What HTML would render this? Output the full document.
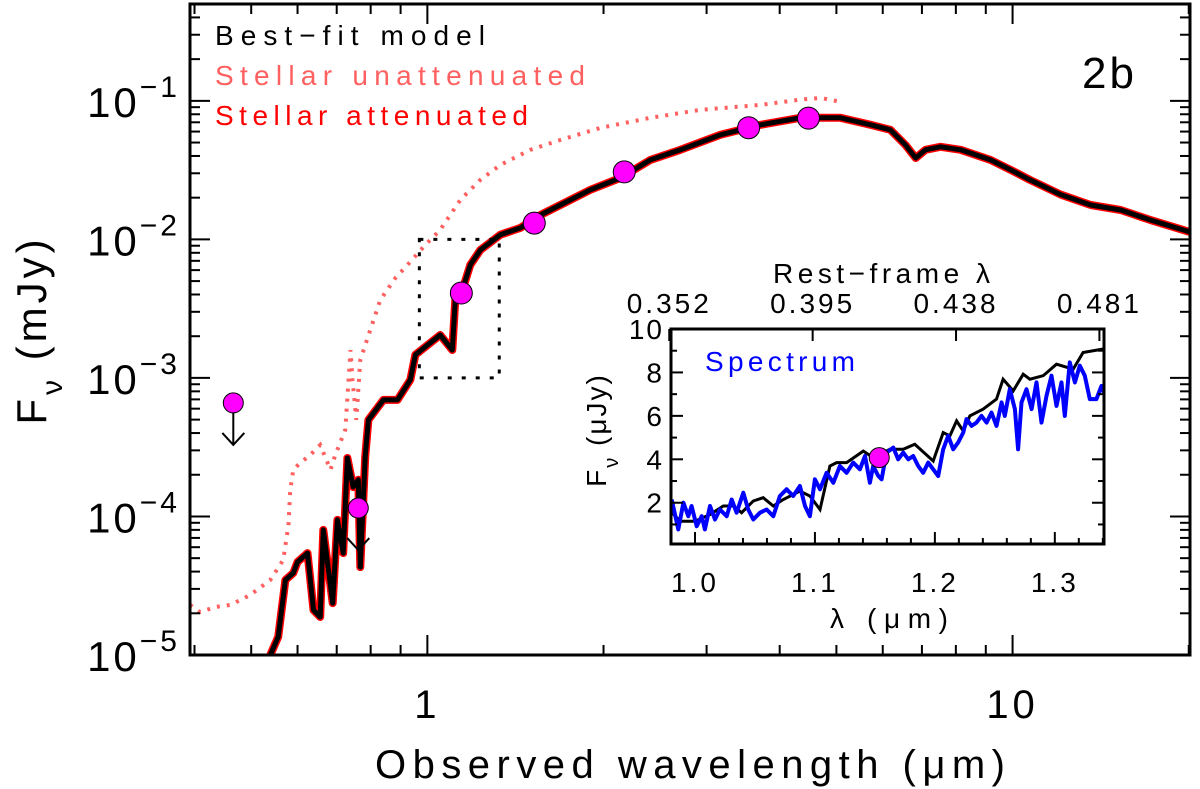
<!DOCTYPE html>
<html><head><meta charset="utf-8"><style>
html,body{margin:0;padding:0;background:#fff;}
svg{display:block;font-family:"Liberation Sans",sans-serif;}
</style></head><body>
<svg id="chart" width="1200" height="789" viewBox="0 0 1200 789" xmlns="http://www.w3.org/2000/svg"></svg>
<script>
// ---- main plot data ----
const modelLam = [0.539,0.556,0.572,0.590,0.600,0.624,0.639,0.656,0.664,0.689,0.702,0.718,0.730,0.747,0.762,0.768,0.783,0.793,0.841,0.889,0.935,0.954,1.052,1.103,1.116,1.148,1.184,1.232,1.333,1.442,1.560,1.687,1.899,2.138,2.405,2.707,3.169,3.71,4.34,5.08,5.72,6.18,6.56,6.83,7.10,7.53,8.15,9.17,9.92,10.7,12.1,13.6,15.3,17.2,20.1];
const modelFlux = [1.0e-5,1.35e-5,3.48e-5,3.91e-5,4.69e-5,5.44e-5,2.11e-5,1.88e-5,8.0e-5,2.37e-5,9.44e-5,5.44e-5,2.64e-4,1.63e-4,1.84e-4,4.31e-5,2.69e-4,4.98e-4,6.94e-4,6.94e-4,9.68e-4,1.47e-3,2.04e-3,1.59e-3,3.66e-3,4.32e-3,6.54e-3,8.40e-3,1.08e-2,1.21e-2,1.50e-2,1.77e-2,2.28e-2,2.78e-2,3.75e-2,4.43e-2,5.69e-2,6.71e-2,7.54e-2,7.54e-2,6.71e-2,6.18e-2,4.81e-2,3.87e-2,4.43e-2,4.66e-2,4.43e-2,3.75e-2,3.18e-2,2.69e-2,2.10e-2,1.77e-2,1.63e-2,1.38e-2,1.13e-2];
const unattLam = [0.393,0.409,0.434,0.461,0.498,0.539,0.567,0.579,0.583,0.590,0.606,0.631,0.656,0.683,0.696,0.724,0.739,0.745,0.756,0.768,0.799,0.831,0.882,0.935,0.992,1.052,1.139,1.232,1.333,1.50,1.687,1.975,2.405,2.93,3.71,4.34,4.70,5.08];
const unattFlux = [2.30e-5,2.04e-5,2.22e-5,2.30e-5,2.71e-5,3.48e-5,4.85e-5,8.69e-5,1.55e-4,2.17e-4,2.43e-4,2.78e-4,3.28e-4,2.17e-4,2.78e-4,4.22e-4,1.59e-3,9.68e-4,4.98e-4,1.35e-3,2.22e-3,3.66e-3,5.27e-3,6.89e-3,9.13e-3,1.17e-2,1.93e-2,2.69e-2,3.45e-2,4.43e-2,5.22e-2,6.38e-2,7.54e-2,8.61e-2,9.35e-2,1.02e-1,1.05e-1,9.84e-2];
const photLam = [1.143,1.523,2.17,3.54,4.48];
const photFlux = [4.1e-3,1.31e-2,3.07e-2,6.4e-2,7.5e-2];
const limLam = [0.466,0.762];
const limFlux = [6.6e-4,1.15e-4];
const xTickLabels = ["1","10"];
const yTickExps = [-1,-2,-3,-4,-5];
// ---- inset data ----
const inModelLam = [0.9797,0.9875,1.0,1.0125,1.0236,1.0319,1.0389,1.0486,1.0569,1.0653,1.0736,1.0875,1.0958,1.1042,1.1125,1.1181,1.1264,1.1403,1.1486,1.1625,1.1736,1.1833,1.1986,1.2069,1.2125,1.2181,1.2236,1.2292,1.2403,1.2514,1.2569,1.2653,1.2736,1.2792,1.2903,1.3014,1.3153,1.3236,1.3403];
const inModelFlux = [1.62,1.15,1.15,1.46,1.85,1.85,1.54,2.08,2.23,1.85,2.15,2.54,2.31,1.69,3.69,3.85,3.85,4.38,4.08,4.46,4.46,4.69,3.92,5.23,5.08,5.77,5.31,6.0,6.31,6.77,7.69,7.15,7.92,7.69,7.85,8.38,8.15,8.92,9.08];
const specLam = [0.9806,0.9861,0.9903,0.9944,0.9972,1.0014,1.0056,1.0083,1.0125,1.0167,1.0208,1.0264,1.0306,1.0347,1.0403,1.0444,1.0486,1.0542,1.0597,1.0653,1.0708,1.0764,1.0819,1.0875,1.0917,1.0958,1.1,1.1042,1.1097,1.1153,1.1208,1.1264,1.1319,1.1375,1.1417,1.1458,1.1486,1.1528,1.1556,1.1597,1.1653,1.1694,1.1736,1.1778,1.1819,1.1861,1.1903,1.1944,1.1986,1.2028,1.2069,1.2111,1.2153,1.2194,1.2236,1.2264,1.2306,1.2347,1.2389,1.2431,1.2472,1.2514,1.2556,1.2583,1.2625,1.2667,1.2694,1.2722,1.2764,1.2806,1.2847,1.2889,1.2931,1.2972,1.3014,1.3056,1.3083,1.3125,1.3167,1.3208,1.325,1.3292,1.3347,1.3389,1.3408];
const specFlux = [2.15,0.77,2.0,1.38,1.85,0.92,1.38,0.77,1.85,1.23,1.69,1.38,2.15,1.54,2.46,1.69,1.23,1.54,1.69,1.38,2.31,2.62,2.31,2.77,1.85,1.38,3.08,2.62,3.38,2.92,3.69,3.38,3.85,3.54,4.15,2.92,3.69,3.23,3.08,4.31,4.54,4.0,4.31,4.0,4.15,3.69,3.38,3.85,3.54,3.23,4.46,5.08,4.46,4.77,5.23,5.85,5.54,5.69,6.0,5.69,6.15,5.54,6.62,6.0,7.23,6.31,4.46,6.62,7.23,6.31,7.54,5.69,6.92,7.85,6.46,7.54,6.0,8.46,7.54,8.31,7.85,6.77,6.77,7.38,7.08];
const inPhotLam = [1.1536];
const inPhotFlux = [4.08];
const inXTicks = [1.0,1.1,1.2,1.3];
const inYTicks = [2,4,6,8,10];
const restLabels = ["0.352","0.395","0.438","0.481"];
const restZ1 = 2.78;

const NS="http://www.w3.org/2000/svg";
const svg=document.getElementById('chart');
function el(tag,attrs,parent){const e=document.createElementNS(NS,tag);for(const k in attrs)e.setAttribute(k,attrs[k]);(parent||svg).appendChild(e);return e;}
const L=190,R=1190,T=4,B=655;
const xLo=Math.log10(0.393),xHi=Math.log10(20.1);
const yLo=-5,yHi=Math.log10(0.5);
const X=l=>L+(Math.log10(l)-xLo)/(xHi-xLo)*(R-L);
const Y=f=>B-(Math.log10(f)-yLo)/(yHi-yLo)*(B-T);
function pathOf(xs,ys,fx,fy){return xs.map((v,i)=>(i?'L':'M')+fx(v).toFixed(1)+','+fy(ys[i]).toFixed(1)).join('');}

const gMain=el('g',{});


const cp=el('clipPath',{id:'mclip'},gMain);el('rect',{x:L,y:T,width:R-L,height:B-T},cp);
const gData=el('g',{'clip-path':'url(#mclip)'},gMain);
const un=el('path',{d:pathOf(unattLam,unattFlux,X,Y),fill:'none',stroke:'#ff6060','stroke-width':4,'stroke-dasharray':'3 7'},gData);


const at=el('path',{d:pathOf(modelLam,modelFlux,X,Y),fill:'none',stroke:'#ff0000','stroke-width':8,'stroke-linejoin':'round'},gData);


const bm=el('path',{d:pathOf(modelLam,modelFlux,X,Y),fill:'none',stroke:'#000','stroke-width':5,'stroke-linejoin':'round'},gData);


const bx=el('rect',{x:X(0.969),y:Y(1e-2),width:X(1.327)-X(0.969),height:Y(1e-3)-Y(1e-2),fill:'none',stroke:'#000','stroke-width':3,'stroke-dasharray':'4 10'},gMain);


limLam.forEach((l,i)=>{
  const g=el('g',{},gMain);
  
  
  const cx=X(l),cy=Y(limFlux[i]);
  el('line',{x1:cx,y1:cy,x2:cx,y2:cy+42,stroke:'#000','stroke-width':2},g);
  el('path',{d:`M${cx-11},${cy+30}L${cx},${cy+42}L${cx+11},${cy+30}`,fill:'none',stroke:'#000','stroke-width':2},g);
  el('circle',{cx:cx,cy:cy,r:10,fill:'#ff00ff',stroke:'#000','stroke-width':1},g);
});
photLam.forEach((l,i)=>{
  const c=el('circle',{cx:X(l),cy:Y(photFlux[i]),r:11,fill:'#ff00ff',stroke:'#000','stroke-width':1},gMain);
  
  
});
const fr=el('rect',{x:L,y:T,width:R-L,height:B-T,fill:'none',stroke:'#000','stroke-width':3},gMain);


for(let d=-1;d<=1;d++){for(let m=1;m<10;m++){const v=m*Math.pow(10,d);if(v<0.393||v>20.1)continue;const x=X(v);const len=(m===1)?20:10;
  el('line',{x1:x,y1:B,x2:x,y2:B-len,stroke:'#000','stroke-width':2},gMain);
  el('line',{x1:x,y1:T,x2:x,y2:T+len,stroke:'#000','stroke-width':2},gMain);}}
[1,10].forEach((v,i)=>{const t=el('text',{x:X(v),y:718,'font-size':40,'text-anchor':'middle','letter-spacing':4},gMain);t.textContent=xTickLabels[i];
  
  });
for(let d=-5;d<=-1;d++){for(let m=1;m<10;m++){const v=m*Math.pow(10,d);if(Math.log10(v)>yHi)continue;const y=Y(v);const len=(m===1)?20:10;
  el('line',{x1:L,y1:y,x2:L+len,y2:y,stroke:'#000','stroke-width':2},gMain);
  el('line',{x1:R,y1:y,x2:R-len,y2:y,stroke:'#000','stroke-width':2},gMain);}}
yTickExps.forEach(e=>{const t=el('text',{x:180,y:Y(Math.pow(10,e))+16,'font-size':42,'text-anchor':'end','letter-spacing':3},gMain);
  t.textContent='10';const s=el('tspan',{dy:-20,'font-size':30},t);s.textContent='\u2212'+Math.abs(e);
  
  });
const xt=el('text',{x:375,y:778,'font-size':40,textLength:630,lengthAdjust:'spacing'},gMain);xt.textContent='Observed wavelength (\u03bcm)';


const yt=el('text',{x:0,y:0,'font-size':42,'text-anchor':'middle','letter-spacing':4,transform:'translate(46,330) rotate(-90)'},gMain);
yt.textContent='F';const ys=el('tspan',{dy:16,'font-size':30},yt);ys.textContent='\u03bd';const ys2=el('tspan',{dy:-16},yt);ys2.textContent=' (mJy)';


[['Best\u2212fit model','#000',270],['Stellar unattenuated','#ff6060',370],['Stellar attenuated','#ff0000',313]].forEach((a,i)=>{
  const t=el('text',{x:215,y:45+i*40,'font-size':28,fill:a[1],textLength:a[2],lengthAdjust:'spacing'},gMain);t.textContent=a[0];
  
  });
const pl=el('text',{x:1137,y:88,'font-size':44,'text-anchor':'end','letter-spacing':3},gMain);pl.textContent='2b';



// ---- inset ----
const iL=671,iR=1104,iT=329,iB=544;
const ixLo=0.98,ixHi=1.341,iyLo=0.1,iyHi=10;
const IX=v=>iL+(v-ixLo)/(ixHi-ixLo)*(iR-iL);
const IY=v=>iB-(v-iyLo)/(iyHi-iyLo)*(iB-iT);
const gIn=el('g',{});


el('rect',{x:iL,y:iT,width:iR-iL,height:iB-iT,fill:'#fff'},gIn);
const icp=el('clipPath',{id:'iclip'},gIn);el('rect',{x:iL,y:iT,width:iR-iL,height:iB-iT},icp);
const giD=el('g',{'clip-path':'url(#iclip)'},gIn);
const im=el('path',{d:pathOf(inModelLam,inModelFlux,IX,IY),fill:'none',stroke:'#000','stroke-width':3},giD);


const sp=el('path',{d:pathOf(specLam,specFlux,IX,IY),fill:'none',stroke:'#0000ff','stroke-width':4,'stroke-linejoin':'round'},giD);


inPhotLam.forEach((l,i)=>{const c=el('circle',{cx:IX(l),cy:IY(inPhotFlux[i]),r:10,fill:'#ff00ff',stroke:'#000','stroke-width':1},gIn);
  
  });
const ifr=el('rect',{x:iL,y:iT,width:iR-iL,height:iB-iT,fill:'none',stroke:'#000','stroke-width':3},gIn);


for(let v=0.98;v<=1.341;v+=0.02){const x=IX(v);const maj=Math.abs(Math.round(v*10)-v*10)<0.001;const len=maj?12:6;
  el('line',{x1:x,y1:iB,x2:x,y2:iB-len,stroke:'#000','stroke-width':2},gIn);}
for(let v=1;v<=10;v+=1){const y=IY(v);const len=(v%2===0)?12:6;
  el('line',{x1:iL,y1:y,x2:iL+len,y2:y,stroke:'#000','stroke-width':2},gIn);
  el('line',{x1:iR,y1:y,x2:iR-len,y2:y,stroke:'#000','stroke-width':2},gIn);}
inXTicks.forEach(v=>{const t=el('text',{x:IX(v),y:592,'font-size':28,'text-anchor':'middle','letter-spacing':3},gIn);t.textContent=v.toFixed(1);
  
  });
inYTicks.forEach(v=>{const t=el('text',{x:664,y:IY(v)+10,'font-size':28,'text-anchor':'end','letter-spacing':2},gIn);t.textContent=String(v);
  
  });
restLabels.forEach(s=>{const obs=parseFloat(s)*restZ1;const x=IX(obs);
  el('line',{x1:x,y1:iT,x2:x,y2:iT+12,stroke:'#000','stroke-width':2},gIn);
  const t=el('text',{x:x,y:313,'font-size':28,'text-anchor':'middle','letter-spacing':3},gIn);t.textContent=s;
  
  });
const rt=el('text',{x:773,y:283,'font-size':28,textLength:217,lengthAdjust:'spacing'},gIn);rt.textContent='Rest\u2212frame \u03bb';


const ixt=el('text',{x:830,y:628,'font-size':28,textLength:118,lengthAdjust:'spacing'},gIn);ixt.textContent='\u03bb (\u03bcm)';


const iyt=el('text',{x:0,y:0,'font-size':28,'text-anchor':'middle','letter-spacing':2,transform:'translate(606,430) rotate(-90)'},gIn);
iyt.textContent='F';const iys=el('tspan',{dy:12,'font-size':20},iyt);iys.textContent='\u03bd';const iys2=el('tspan',{dy:-12},iyt);iys2.textContent=' (\u03bcJy)';


const sl=el('text',{x:705,y:371,'font-size':28,fill:'#0000ff',textLength:150,lengthAdjust:'spacing'},gIn);sl.textContent='Spectrum';


</script>
</body></html>
